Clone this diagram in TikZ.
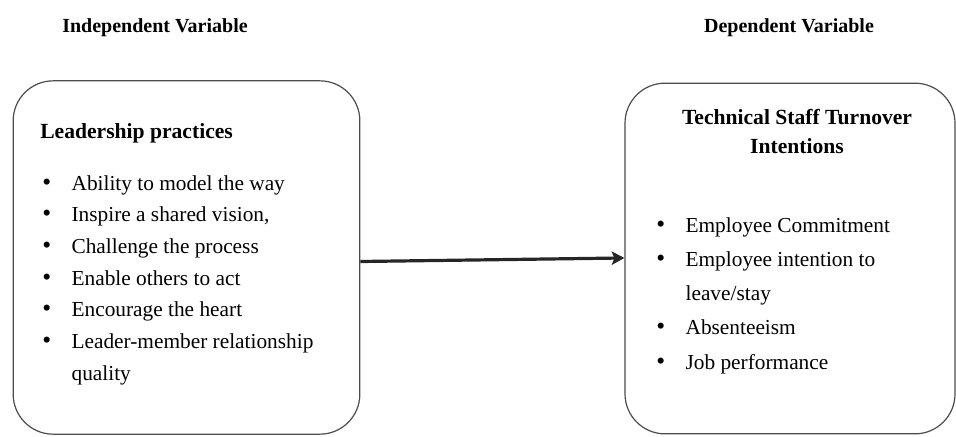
\documentclass[tikz,border=0pt]{standalone}
\usepackage{fontspec}
\setmainfont{Liberation Serif}
\usetikzlibrary{arrows.meta}

\newcommand{\bul}{{\fontsize{19}{19}\selectfont\textbullet}}

\begin{document}
\begin{tikzpicture}[x=0.75pt,y=-0.75pt,
  var box/.style={draw=black!70,line width=0.9pt,rounded corners=30pt,inner sep=0pt},
  heading/.style={font=\fontsize{15}{17}\selectfont\bfseries,anchor=base},
  box title/.style={font=\fontsize{16.2}{21.75}\selectfont\bfseries,align=center},
  item list/.style={font=\fontsize{16}{23.75}\selectfont,inner sep=0pt,anchor=base west},
  link/.style={-{Stealth[length=9.5pt,width=10pt,inset=2pt]},line width=2.4pt,black!85}]

  \useasboundingbox (0,0) rectangle (956,436);

  % headings
  \node[heading] (iv) at (155,32) {Independent Variable};
  \node[heading] (dv) at (789,32) {Dependent Variable};

  % boxes
  \node[var box,minimum width=260pt,minimum height=265pt] (lead) at (186.5,257.5) {};
  \node[var box,minimum width=247.5pt,minimum height=263pt] (turn) at (790,258.5) {};

  % left contents
  \node[box title,anchor=base west,inner sep=0pt] (lt) at (40,138) {Leadership practices};
  \node[item list] (ll) at (42,190) {%
    \begin{tabular}[t]{@{}p{22pt}@{}l@{}}
      \bul & Ability to model the way\\
      \bul & Inspire a shared vision,\\
      \bul & Challenge the process\\
      \bul & Enable others to act\\
      \bul & Encourage the heart\\
      \bul & Leader-member relationship\\
           & quality
    \end{tabular}};

  % right contents
  \node[box title,anchor=base,inner sep=0pt] (rt) at (797,153) {Technical Staff Turnover\\Intentions};
  \node[item list,font=\fontsize{16}{25.7}\selectfont] (rl) at (656,232) {%
    \begin{tabular}[t]{@{}p{22pt}@{}l@{}}
      \bul & Employee Commitment\\
      \bul & Employee intention to\\
           & leave/stay\\
      \bul & Absenteeism\\
      \bul & Job performance
    \end{tabular}};

  % relation
  \draw[link] ([yshift=-3pt]lead.east) -- ([yshift=0.4pt]turn.west);

\end{tikzpicture}
\end{document}
